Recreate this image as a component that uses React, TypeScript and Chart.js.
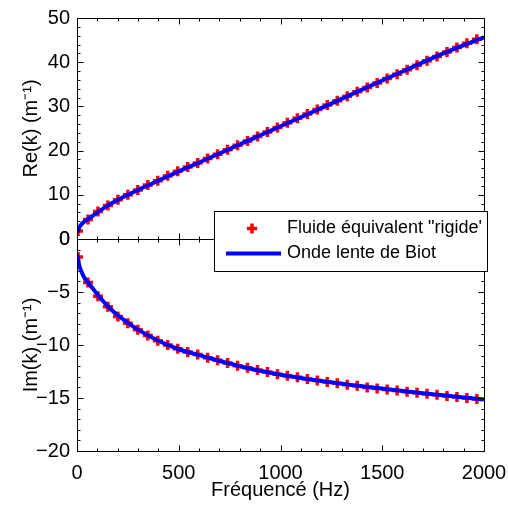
import React, { useEffect, useRef } from "react";
import { Chart, registerables } from "chart.js";

Chart.register(...registerables);

// ---- data ----
const markerFreq = [5, 54, 103, 152, 201, 250, 299, 348, 397, 446, 495, 544, 593, 642, 691, 740, 789, 838, 887, 936, 985, 1034, 1083, 1132, 1181, 1230, 1279, 1328, 1377, 1426, 1475, 1524, 1573, 1622, 1671, 1720, 1769, 1818, 1867, 1916, 1965];
const markerRe = [1.8, 4.4, 6.2, 7.6, 8.9, 10.0, 11.1, 12.2, 13.2, 14.3, 15.3, 16.3, 17.2, 18.2, 19.2, 20.2, 21.2, 22.2, 23.2, 24.2, 25.2, 26.3, 27.3, 28.3, 29.3, 30.3, 31.3, 32.3, 33.3, 34.3, 35.3, 36.3, 37.3, 38.3, 39.3, 40.3, 41.3, 42.3, 43.3, 44.3, 45.2];
const markerIm = [-1.7, -4.1, -5.4, -6.4, -7.3, -7.95, -8.55, -9.1, -9.6, -10.0, -10.35, -10.65, -10.9, -11.2, -11.45, -11.7, -11.95, -12.15, -12.35, -12.55, -12.75, -12.9, -13.05, -13.2, -13.35, -13.5, -13.6, -13.75, -13.85, -14.0, -14.1, -14.2, -14.3, -14.4, -14.5, -14.6, -14.7, -14.8, -14.9, -15.0, -15.1];

const lineFreq = [2, 10, 20, 35, 54, 75, 103, 150, 200, 250, 300, 400, 500, 600, 800, 1000, 1200, 1400, 1600, 1800, 2000];
const lineRe = [1.5, 2.5, 3.2, 3.9, 4.5, 5.2, 6.1, 7.5, 8.8, 10.0, 11.1, 13.2, 15.3, 17.3, 21.4, 25.5, 29.6, 33.8, 37.9, 42.0, 45.6];
const lineIm = [-1.5, -2.4, -3.0, -3.6, -4.1, -4.6, -5.3, -6.3, -7.2, -7.9, -8.55, -9.6, -10.4, -10.95, -12.0, -12.8, -13.4, -13.9, -14.35, -14.75, -15.15];

const xTicks = [0, 500, 1000, 1500, 2000];
const reTicks = [0, 10, 20, 30, 40, 50];
const imTicks = [-20, -15, -10, -5, 0];

const seriesLabels = ['Fluide équivalent "rigide\'', "Onde lente de Biot"];
const xTitle = "Fréquencé (Hz)";
const reTitle = "Re(k) (m⁻¹)";
const imTitle = "Im(k) (m⁻¹)";

const FONT = "'Liberation Sans', Arial, Helvetica, sans-serif";
const RED = "#ff0000";
const BLUE = "#0000ff";

const fmt = (v: number) => (v < 0 ? "\u2212" + Math.abs(v) : String(v));

// frame with inward MATLAB-like ticks on all sides
const framePlugin = {
  id: "frame",
  afterDatasetsDraw(chart: any, _args: any, opts: any) {
    const { ctx, chartArea: a, scales } = chart;
    const xs = scales.x;
    const ys = scales.y;
    const r = (v: number) => Math.round(v) + 0.5;
    ctx.save();
    ctx.strokeStyle = "#000";
    ctx.lineWidth = 1;
    ctx.beginPath();
    const L = r(a.left), R = r(a.right), T = r(a.top), B = r(a.bottom);
    ctx.rect(L, T, R - L, B - T);
    const eps = 1e-6;
    for (let v = xs.min; v <= xs.max + eps; v += opts.xMinor) {
      const major = Math.abs(v / opts.xMajor - Math.round(v / opts.xMajor)) < eps;
      const len = major ? 6 : 3;
      const px = r(xs.getPixelForValue(v));
      ctx.moveTo(px, B); ctx.lineTo(px, B - len);
      ctx.moveTo(px, T); ctx.lineTo(px, T + len);
    }
    for (let v = ys.min; v <= ys.max + eps; v += opts.yMinor) {
      const major = Math.abs(v / opts.yMajor - Math.round(v / opts.yMajor)) < eps;
      const len = major ? 6 : 3;
      const py = r(ys.getPixelForValue(v));
      ctx.moveTo(L, py); ctx.lineTo(L + len, py);
      ctx.moveTo(R, py); ctx.lineTo(R - len, py);
    }
    ctx.stroke();
    ctx.restore();
  },
};

// legend box straddling both plots, drawn by the lower chart
const legendPlugin = {
  id: "boxLegend",
  afterDraw(chart: any, _args: any, opts: any) {
    if (!opts || !opts.show) return;
    const { ctx, chartArea: a } = chart;
    const right = a.right + 3;
    const top = a.top - 28;
    const w = 273;
    const h = 60;
    const left = right - w;
    ctx.save();
    ctx.fillStyle = "#fff";
    ctx.fillRect(left, top, w, h);
    ctx.strokeStyle = "#000";
    ctx.lineWidth = 1;
    ctx.strokeRect(Math.round(left) + 0.5, Math.round(top) + 0.5, w, h);
    const y1 = top + 17.5;
    const y2 = top + 42.5;
    // marker sample
    ctx.strokeStyle = RED;
    ctx.lineWidth = 3.5;
    ctx.beginPath();
    const mx = left + 38;
    ctx.moveTo(mx - 5, y1); ctx.lineTo(mx + 5, y1);
    ctx.moveTo(mx, y1 - 5); ctx.lineTo(mx, y1 + 5);
    ctx.stroke();
    // line sample
    ctx.strokeStyle = BLUE;
    ctx.lineWidth = 4;
    ctx.beginPath();
    ctx.moveTo(left + 12, y2); ctx.lineTo(left + 67, y2);
    ctx.stroke();
    ctx.fillStyle = "#000";
    ctx.font = `18px ${FONT}`;
    ctx.textBaseline = "middle";
    ctx.textAlign = "left";
    ctx.fillText(opts.labels[0], left + 73, y1);
    ctx.fillText(opts.labels[1], left + 73, y2);
    ctx.restore();
  },
};

function makeConfig(kind: "re" | "im"): any {
  const isRe = kind === "re";
  const markerVals = isRe ? markerRe : markerIm;
  const lineVals = isRe ? lineRe : lineIm;
  const yt = isRe ? reTicks : imTicks;
  return {
    type: "line",
    data: {
      datasets: [
        {
          label: seriesLabels[1],
          data: lineFreq.map((f, i) => ({ x: f, y: lineVals[i] })),
          borderColor: BLUE,
          borderWidth: 4,
          pointRadius: 0,
          pointHoverRadius: 0,
          cubicInterpolationMode: "monotone",
          fill: false,
          order: 0,
        },
        {
          label: seriesLabels[0],
          data: markerFreq.map((f, i) => ({ x: f, y: markerVals[i] })),
          showLine: false,
          pointStyle: "cross",
          pointRadius: 5,
          pointBorderWidth: 3.5,
          pointBorderColor: RED,
          pointBackgroundColor: RED,
          borderColor: RED,
          order: 1,
        },
      ],
    },
    options: {
      responsive: false,
      animation: false,
      devicePixelRatio: 1,
      events: [],
      layout: {
        padding: isRe
          ? { left: 0, right: 24, top: 18, bottom: 268 }
          : { left: 0, right: 24, top: 239, bottom: 0 },
      },
      plugins: {
        legend: { display: false },
        tooltip: { enabled: false },
        frame: { xMinor: 100, xMajor: 500, yMinor: isRe ? 2 : 1, yMajor: isRe ? 10 : 5 },
        boxLegend: { show: !isRe, labels: seriesLabels },
      },
      scales: {
        x: {
          type: "linear",
          min: xTicks[0],
          max: xTicks[xTicks.length - 1],
          grid: { display: false, drawTicks: false },
          border: { display: false },
          afterBuildTicks: (s: any) => { s.ticks = xTicks.map((v) => ({ value: v })); },
          ticks: {
            display: !isRe,
            autoSkip: false,
            maxRotation: 0,
            padding: 10,
            color: "#000",
            font: { family: FONT, size: 20 },
            callback: (v: number) => fmt(v),
          },
          title: {
            display: !isRe,
            text: xTitle,
            color: "#000",
            font: { family: FONT, size: 20 },
            padding: { top: 5, bottom: 5 },
          },
          afterFit: (s: any) => {
            s.height = isRe ? 0 : 56;
            s.paddingLeft = 0;
            s.paddingRight = 0;
          },
        },
        y: {
          type: "linear",
          min: yt[0],
          max: yt[yt.length - 1],
          grid: { display: false, drawTicks: false },
          border: { display: false },
          afterBuildTicks: (s: any) => { s.ticks = yt.map((v) => ({ value: v })); },
          ticks: {
            autoSkip: false,
            padding: 7,
            color: "#000",
            font: { family: FONT, size: 20 },
            callback: (v: number) => fmt(v),
          },
          title: {
            display: true,
            text: isRe ? reTitle : imTitle,
            color: "#000",
            font: { family: FONT, size: 20 },
            padding: { top: 19, bottom: 19 },
          },
          afterFit: (s: any) => {
            s.width = 77;
            s.paddingTop = 0;
            s.paddingBottom = 0;
          },
        },
      },
    },
    plugins: [framePlugin, legendPlugin],
  };
}

export default function App() {
  const topRef = useRef<HTMLCanvasElement | null>(null);
  const botRef = useRef<HTMLCanvasElement | null>(null);

  useEffect(() => {
    if (!topRef.current || !botRef.current) return;
    const c1 = new Chart(topRef.current, makeConfig("re"));
    const c2 = new Chart(botRef.current, makeConfig("im"));
    return () => {
      c1.destroy();
      c2.destroy();
    };
  }, []);

  const cs: React.CSSProperties = { position: "absolute", left: 0, top: 0, width: 508, height: 507 };
  return (
    <div style={{ position: "fixed", left: 0, top: 0, width: 508, height: 507, background: "#fff" }}>
      <canvas ref={topRef} width={508} height={507} style={cs} />
      <canvas ref={botRef} width={508} height={507} style={cs} />
    </div>
  );
}
